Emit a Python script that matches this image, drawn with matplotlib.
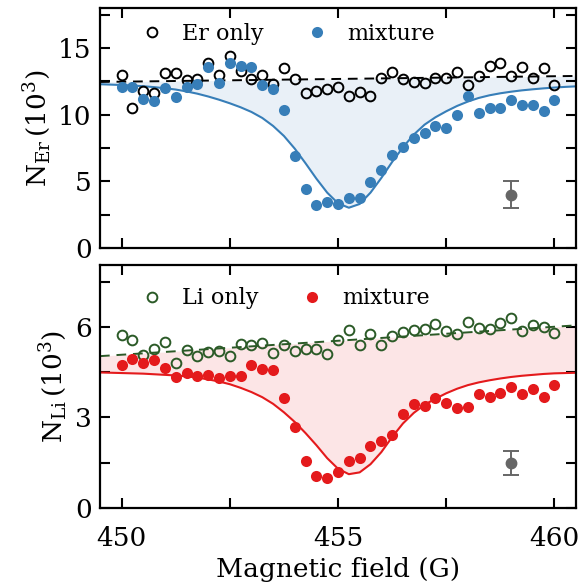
import numpy as np
import matplotlib
matplotlib.use("Agg")
import matplotlib.pyplot as plt
from matplotlib.ticker import MultipleLocator

plt.rcParams['font.family'] = ['DejaVu Serif']
plt.rcParams['mathtext.fontset'] = 'custom'
plt.rcParams['mathtext.rm'] = 'DejaVu Serif'
plt.rcParams['mathtext.it'] = 'DejaVu Serif:italic'

# ---------------- data ----------------
field = [450.0, 450.25, 450.5, 450.75, 451.0, 451.25, 451.5, 451.75, 452.0, 452.25,
         452.5, 452.75, 453.0, 453.25, 453.5, 453.75, 454.0, 454.25, 454.5, 454.75,
         455.0, 455.25, 455.5, 455.75, 456.0, 456.25, 456.5, 456.75, 457.0, 457.25,
         457.5, 457.75, 458.0, 458.25, 458.5, 458.75, 459.0, 459.25, 459.5, 459.75, 460.0]

er_only = [13.0, 10.5, 11.8, 11.6, 13.15, 13.15, 12.6, 12.7, 13.85, 13.0,
           14.4, 13.3, 12.7, 13.0, 12.3, 13.47, 12.67, 11.6, 11.8, 11.9,
           12.05, 11.43, 11.68, 11.43, 12.78, 13.17, 12.65, 12.47, 12.4, 12.72,
           12.72, 13.2, 12.2, 12.9, 13.65, 13.85, 12.9, 13.6, 12.72, 13.5, 12.2]

er_mix = [12.1, 12.1, 11.2, 11.0, 11.98, 11.35, 12.1, 12.28, 13.55, 12.35,
          13.85, 13.67, 13.6, 12.2, 11.93, 10.36, 6.88, 4.39, 3.22, 3.47,
          3.32, 3.72, 3.72, 4.96, 5.83, 6.95, 7.57, 8.25, 8.62, 9.12,
          9.0, 9.94, 11.36, 10.1, 10.5, 10.5, 11.1, 10.73, 10.73, 10.28, 11.06]

li_only = [5.74, 5.56, 5.08, 5.27, 5.49, 4.81, 5.22, 5.05, 5.17, 5.19,
           5.03, 5.43, 5.39, 5.47, 5.14, 5.39, 5.19, 5.28, 5.25, 5.1,
           5.56, 5.91, 5.39, 5.77, 5.39, 5.69, 5.83, 5.88, 5.93, 6.1,
           5.85, 5.77, 6.15, 5.96, 5.93, 6.13, 6.29, 5.85, 6.05, 6.0, 5.78]

li_mix = [4.72, 4.92, 4.79, 4.89, 4.64, 4.33, 4.48, 4.37, 4.39, 4.29,
          4.37, 4.37, 4.73, 4.61, 4.57, 3.63, 2.68, 1.56, 1.07, 0.98,
          1.2, 1.56, 1.65, 2.06, 2.22, 2.41, 3.1, 3.43, 3.38, 3.63,
          3.49, 3.32, 3.36, 3.79, 3.69, 3.82, 4.02, 3.79, 3.95, 3.67, 4.06]

fit_field = [449.5, 449.75, 450.0, 450.25, 450.5, 450.75, 451.0, 451.25, 451.5, 451.75,
             452.0, 452.25, 452.5, 452.75, 453.0, 453.25, 453.5, 453.75, 454.0, 454.25,
             454.5, 454.75, 455.0, 455.25, 455.5, 455.75, 456.0, 456.25, 456.5, 456.75,
             457.0, 457.25, 457.5, 457.75, 458.0, 458.25, 458.5, 458.75, 459.0, 459.25,
             459.5, 459.75, 460.0, 460.25, 460.5]

er_fit = [12.28, 12.25, 12.22, 12.18, 12.13, 12.06, 11.98, 11.88, 11.74, 11.57,
          11.36, 11.12, 10.85, 10.55, 10.2, 9.75, 9.15, 8.4, 7.45, 6.35,
          5.2, 4.15, 3.35, 3.02, 3.3, 4.15, 5.25, 6.45, 7.55, 8.5,
          9.25, 9.8, 10.25, 10.65, 10.98, 11.25, 11.45, 11.6, 11.72, 11.82,
          11.9, 11.97, 12.03, 12.08, 12.12]

li_fit = [4.49, 4.48, 4.47, 4.46, 4.45, 4.43, 4.41, 4.39, 4.36, 4.32,
          4.26, 4.19, 4.1, 3.98, 3.84, 3.67, 3.45, 3.17, 2.85, 2.48,
          2.08, 1.65, 1.3, 1.12, 1.18, 1.45, 1.85, 2.35, 2.8, 3.15,
          3.42, 3.62, 3.8, 3.95, 4.07, 4.16, 4.23, 4.29, 4.34, 4.38,
          4.41, 4.44, 4.46, 4.47, 4.48]

base_field = [449.5, 460.5]
er_base = [12.45, 12.9]
li_base = [5.03, 6.05]

err_field = [459.0]
er_err_val, er_err = [4.0], [1.0]
li_err_val, li_err = [1.5], [0.4]

blue = '#377eb8'
red = '#e41a1c'
green = '#2b5a27'
grey = '#666666'

fig = plt.figure(figsize=(5.82, 5.87), dpi=100)
ax1 = fig.add_axes([0.1718, 0.5775, 0.818, 0.4090])
ax2 = fig.add_axes([0.1718, 0.1346, 0.818, 0.4140])

def style(ax):
    ax.tick_params(which='both', direction='in', top=True, right=True,
                   width=1.5, labelsize=19, pad=6)
    ax.tick_params(axis='x', which='both', pad=13)
    ax.tick_params(which='major', length=7)
    ax.tick_params(which='minor', length=7)
    for s in ax.spines.values():
        s.set_linewidth(1.6)
    ax.xaxis.set_major_locator(MultipleLocator(5))
    ax.xaxis.set_minor_locator(MultipleLocator(2.5))
    ax.set_xlim(449.5, 460.5)

leg_kw = dict(loc='upper left', ncol=2, frameon=False, fontsize=16,
              handlelength=1.0, handletextpad=0.85, columnspacing=1.9)

# ---- top panel ----
ff = np.array(fit_field)
eb = np.interp(ff, base_field, er_base)
ax1.fill_between(ff, er_fit, eb, color=blue, alpha=0.11, lw=0, zorder=1)
ax1.plot(base_field, er_base, '--', color='black', lw=1.4, dashes=(5, 3.5), zorder=2)
ax1.plot(ff, er_fit, '-', color=blue, lw=1.5, zorder=2)
ax1.plot(field, er_only, 'o', mfc='none', mec='black', mew=1.4, ms=7, zorder=3,
         label='Er only')
ax1.plot(field, er_mix, 'o', color=blue, ms=8, mew=0, zorder=4, label='mixture')
ax1.errorbar(err_field, er_err_val, yerr=er_err, fmt='o', color=grey, ms=7.5,
             capsize=6, elinewidth=1.4, capthick=1.4, zorder=5)
style(ax1)
ax1.set_ylim(0, 18)
ax1.yaxis.set_major_locator(MultipleLocator(5))
ax1.yaxis.set_minor_locator(MultipleLocator(2.5))
ax1.tick_params(labelbottom=False)
ax1.set_ylabel(r'$\mathrm{N_{Er}}\,(10^3)$', fontsize=19)
ax1.legend(bbox_to_anchor=(0.044, 1.02), **leg_kw)

# ---- bottom panel ----
lb = np.interp(ff, base_field, li_base)
ax2.fill_between(ff, li_fit, lb, color=red, alpha=0.11, lw=0, zorder=1)
ax2.plot(base_field, li_base, '--', color=green, lw=1.4, dashes=(5, 3.5), zorder=2)
ax2.plot(ff, li_fit, '-', color=red, lw=1.5, zorder=2)
ax2.plot(field, li_only, 'o', mfc='none', mec=green, mew=1.4, ms=7, zorder=3,
         label='Li only')
ax2.plot(field, li_mix, 'o', color=red, ms=8, mew=0, zorder=4, label='mixture')
ax2.errorbar(err_field, li_err_val, yerr=li_err, fmt='o', color=grey, ms=7.5,
             capsize=6, elinewidth=1.4, capthick=1.4, zorder=5)
style(ax2)
ax2.set_ylim(0, 8.05)
ax2.yaxis.set_major_locator(MultipleLocator(3))
ax2.yaxis.set_minor_locator(MultipleLocator(1.5))
ax2.set_ylabel(r'$\mathrm{N_{Li}}\,(10^3)$', fontsize=19)
ax2.set_xlabel('Magnetic field (G)', fontsize=19)
ax2.legend(bbox_to_anchor=(0.044, 0.99), **leg_kw)

fig.align_ylabels([ax1, ax2])
fig.savefig('out.png', dpi=100)
